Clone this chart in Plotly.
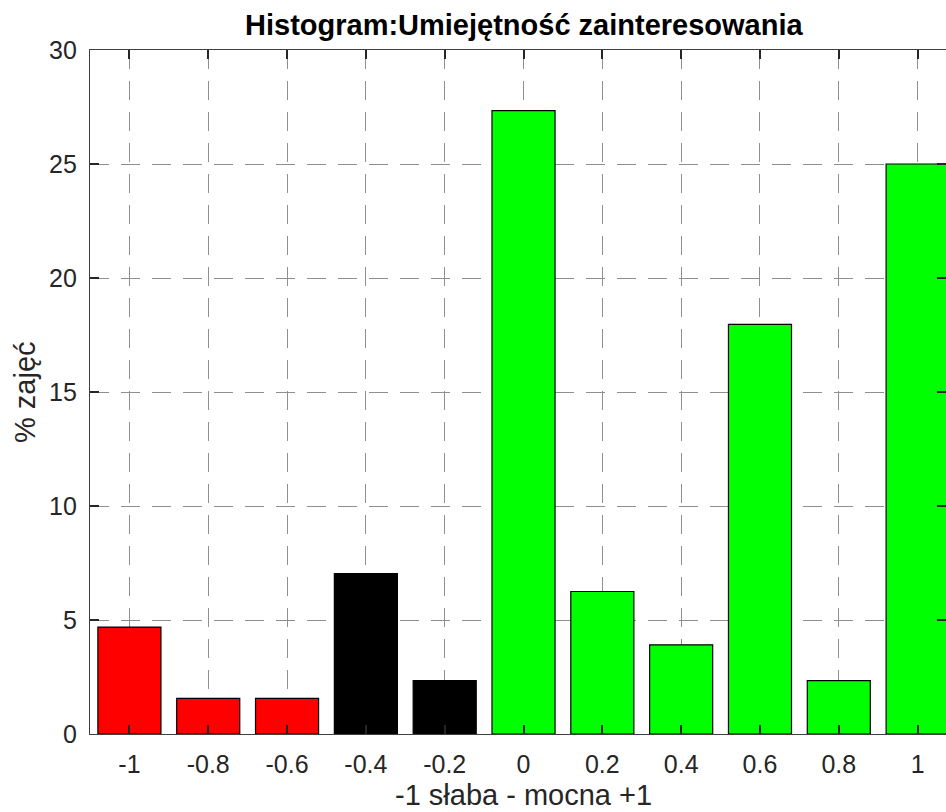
import plotly.graph_objects as go

# Bin centres, bar values (% of sessions) and bar colours
bins = [-1.0, -0.8, -0.6, -0.4, -0.2, 0.0, 0.2, 0.4, 0.6, 0.8, 1.0]
percent = [4.69, 1.56, 1.56, 7.03, 2.34, 27.34, 6.25, 3.91, 17.97, 2.34, 25.0]
bar_colors = ["#ff0000", "#ff0000", "#ff0000", "#000000", "#000000",
              "#00ff00", "#00ff00", "#00ff00", "#00ff00", "#00ff00", "#00ff00"]
x_tick_labels = ["-1", "-0.8", "-0.6", "-0.4", "-0.2", "0", "0.2", "0.4", "0.6", "0.8", "1"]
y_ticks = [0, 5, 10, 15, 20, 25, 30]

title_text = "Histogram:Umiejętność zainteresowania"
x_label = "-1 słaba - mocna +1"
y_label = "% zajęć"

FONT = "Liberation Sans, Arial, sans-serif"
AXIS_COLOR = "#262626"
GRID_COLOR = "#8f8f8f"
TICK_SIZE = 25
LABEL_SIZE = 29

fig = go.Figure(
    go.Bar(
        x=bins,
        y=percent,
        width=0.16,
        marker=dict(color=bar_colors, line=dict(color="#000000", width=1.2)),
        showlegend=False,
    )
)

fig.update_layout(
    width=946,
    height=812,
    margin=dict(l=90, r=0, t=50, b=78),
    paper_bgcolor="white",
    plot_bgcolor="white",
    font=dict(family=FONT, color=AXIS_COLOR, size=TICK_SIZE),
)

axis_style = dict(
    ticks="inside",
    ticklen=9,
    tickwidth=1.5,
    tickcolor=AXIS_COLOR,
    showline=True,
    linecolor="#404040",
    linewidth=1.2,
    mirror="ticks",
    showgrid=True,
    gridcolor=GRID_COLOR,
    gridwidth=1,
    griddash="19px,12px",
    zeroline=False,
    tickfont=dict(size=TICK_SIZE, color=AXIS_COLOR),
)

fig.update_xaxes(
    range=[-1.1, 1.072],
    tickmode="array",
    tickvals=bins,
    ticktext=x_tick_labels,
    ticklabelstandoff=8,
    **axis_style,
)

fig.update_yaxes(
    range=[0, 30],
    tickmode="array",
    tickvals=y_ticks,
    ticklabelstandoff=7,
    **axis_style,
)

fig.add_annotation(
    x=0, xref="x", y=1, yref="paper",
    text="<b>" + title_text + "</b>",
    showarrow=False, xanchor="center", yanchor="middle", yshift=25,
    font=dict(family=FONT, size=LABEL_SIZE, color="#000000"),
)
fig.add_annotation(
    x=0, xref="x", y=0, yref="paper",
    text=x_label,
    showarrow=False, xanchor="center", yanchor="middle", yshift=-61,
    font=dict(family=FONT, size=LABEL_SIZE, color=AXIS_COLOR),
)
fig.add_annotation(
    x=0, xref="paper", y=0.5, yref="paper",
    text=y_label, textangle=-90,
    showarrow=False, xanchor="center", yanchor="middle", xshift=-65,
    font=dict(family=FONT, size=LABEL_SIZE, color=AXIS_COLOR),
)

fig.write_html("out.html")
